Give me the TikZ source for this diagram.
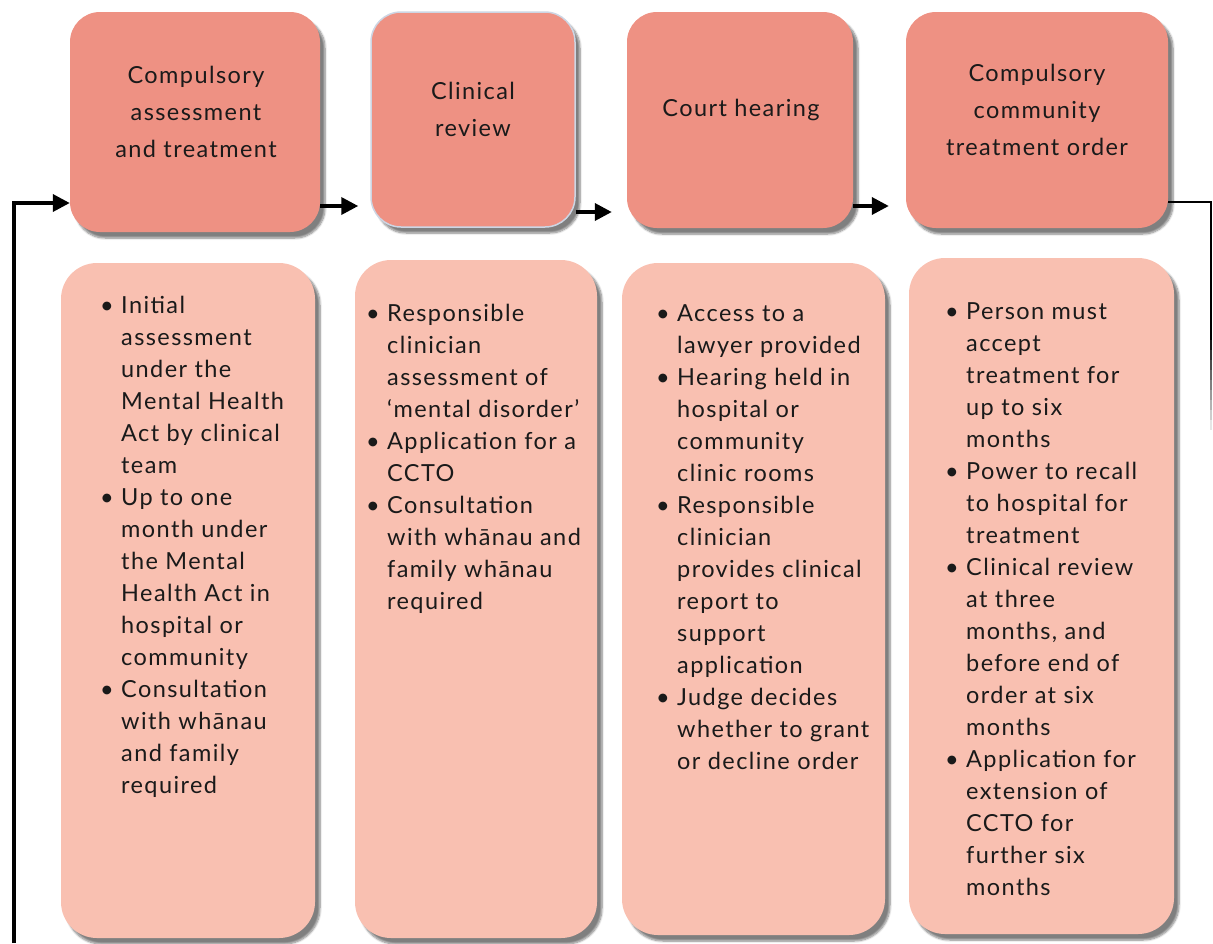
\documentclass[tikz,border=0pt]{standalone}
\usepackage{fontspec}
\setmainfont[LetterSpace=6]{Lato}
\usetikzlibrary{arrows.meta,shadows.blur}
\definecolor{headfill}{RGB}{238,145,131}
\definecolor{bodyfill}{RGB}{249,192,177}
\definecolor{edgeblue}{RGB}{205,214,228}
\definecolor{ink}{RGB}{26,26,26}
\newcommand\bl{\makebox[21pt][l]{\textbullet}}
\begin{document}
\begin{tikzpicture}[x=1pt,y=-1pt,
  headbox/.style={rectangle, rounded corners=30pt, fill=headfill, draw=none, inner sep=0pt,
    blur shadow={shadow xshift=5pt, shadow yshift=-6pt, shadow blur steps=7, shadow opacity=50}},
  bodybox/.style={rectangle, rounded corners=36pt, fill=bodyfill, draw=none, inner sep=0pt,
    blur shadow={shadow xshift=5pt, shadow yshift=-6pt, shadow blur steps=7, shadow opacity=50}},
  headtext/.style={align=center, text=ink, inner sep=0pt, font=\fontsize{23.5}{37}\selectfont},
  bodytext/.style={anchor=base west, text=ink, inner sep=0pt, font=\fontsize{23.5}{32}\selectfont},
  flow/.style={line width=3.6pt, -{Triangle[length=17pt,width=17pt]}},
]
\useasboundingbox (0,0) rectangle (1213,943);

% header boxes
\node[headbox, minimum width=250pt, minimum height=220pt] (t1) at (195,122) {};
\node[headbox, draw=edgeblue, line width=1.5pt, minimum width=204pt, minimum height=215pt] (t2) at (473,119.5) {};
\node[headbox, minimum width=226pt, minimum height=216pt] (t3) at (740,120) {};
\node[headbox, minimum width=262pt, minimum height=216pt] (t4) at (1037,120) {};

\node[headtext] (h1) at (196,112) {Compulsory\\assessment\\and treatment};
\node[headtext] (h2) at (473,109) {Clinical\\review};
\node[headtext] (h3) at (741,110) {Court hearing};
\node[headtext] (h4) at (1037,110) {Compulsory\\community\\treatment order};

% body boxes
\node[bodybox, minimum width=254pt, minimum height=675pt] (b1) at (188,600.5) {};
\node[bodybox, minimum width=242pt, minimum height=678pt] (b2) at (476,599) {};
\node[bodybox, minimum width=263pt, minimum height=672pt] (b3) at (753.5,599) {};
\node[bodybox, minimum width=265pt, minimum height=676pt] (b4) at (1041.5,596) {};

\node[bodytext] (l1) at (100,313) {\begin{tabular}[t]{@{}l@{}l@{}}
\bl & Initial\\ & assessment\\ & under the\\ & Mental Health\\ & Act by clinical\\ & team\\
\bl & Up to one\\ & month under\\ & the Mental\\ & Health Act in\\ & hospital or\\ & community\\
\bl & Consultation\\ & with wh\=anau\\ & and family\\ & required
\end{tabular}};

\node[bodytext] (l2) at (366,321) {\begin{tabular}[t]{@{}l@{}l@{}}
\bl & Responsible\\ & clinician\\ & assessment of\\ & ‘mental disorder’\\
\bl & Application for a\\ & CCTO\\
\bl & Consultation\\ & with wh\=anau and\\ & family wh\=anau\\ & required
\end{tabular}};

\node[bodytext] (l3) at (656,321) {\begin{tabular}[t]{@{}l@{}l@{}}
\bl & Access to a\\ & lawyer provided\\
\bl & Hearing held in\\ & hospital or\\ & community\\ & clinic rooms\\
\bl & Responsible\\ & clinician\\ & provides clinical\\ & report to\\ & support\\ & application\\
\bl & Judge decides\\ & whether to grant\\ & or decline order
\end{tabular}};

\node[bodytext] (l4) at (945,319) {\begin{tabular}[t]{@{}l@{}l@{}}
\bl & Person must\\ & accept\\ & treatment for\\ & up to six\\ & months\\
\bl & Power to recall\\ & to hospital for\\ & treatment\\
\bl & Clinical review\\ & at three\\ & months, and\\ & before end of\\ & order at six\\ & months\\
\bl & Application for\\ & extension of\\ & CCTO for\\ & further six\\ & months
\end{tabular}};

% connectors
\coordinate (start) at (14,943);
\coordinate (corner) at (14,203);
\draw[flow] (start) -- (corner) -- (t1.west |- corner);
\draw[flow, shorten >=12pt] ([yshift=-84pt]t1.east) -- ([yshift=-86.5pt]t2.west);
\draw[flow, shorten >=15pt] ([yshift=-92.5pt]t2.east) -- ([yshift=-92pt]t3.west);
\draw[flow, shorten >=17pt] ([yshift=-86pt]t3.east) -- ([yshift=-86pt]t4.west);
\coordinate (rc) at (1211,202);
\coordinate (rm) at (1211,340);
\draw[line width=2.8pt] ([yshift=-82pt]t4.east) -- (rc) -- (rm);
\foreach \i in {0,...,8} {
  \draw[line width=2.8pt, draw opacity={1-(\i+1)/10}] (1211,{340+\i*10}) -- (1211,{350+\i*10});
}
\end{tikzpicture}
\end{document}
